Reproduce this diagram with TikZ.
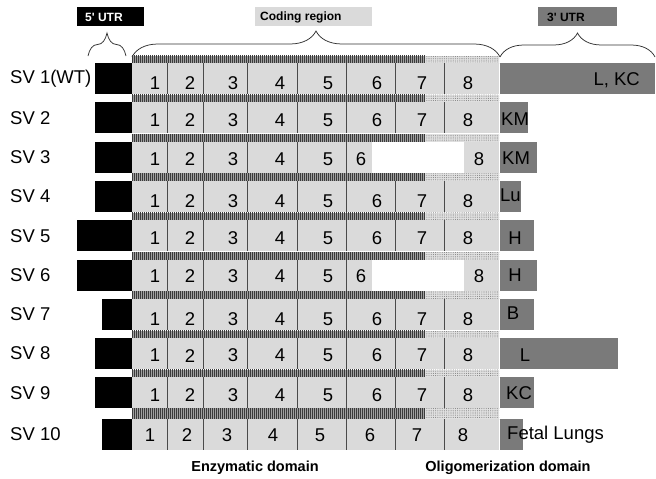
\documentclass[tikz,border=0pt]{standalone}
\usepackage{fontspec}
\setmainfont{Liberation Sans}
\usetikzlibrary{patterns.meta,decorations.pathreplacing}
\definecolor{cell}{HTML}{DADADA}
\definecolor{utr}{HTML}{7A7A7A}
\definecolor{sep}{HTML}{4A4A4A}
\definecolor{stripebg}{HTML}{A0A0A0}
\definecolor{stripec}{HTML}{3A3A3A}
\definecolor{dotbg}{HTML}{E0E0E0}
\definecolor{dotc}{HTML}{858585}
\definecolor{bracec}{HTML}{333333}
\tikzset{
  big/.style={font=\fontsize{18.5}{20}\selectfont, inner sep=0pt},
  toplab/.style={font=\fontsize{12}{13}\selectfont\bfseries, inner sep=0pt, anchor=west},
  botlab/.style={font=\fontsize{14.5}{16}\selectfont\bfseries, inner sep=0pt},
  stripeband/.style={preaction={fill=stripebg}, pattern={Lines[angle=90,distance=2pt,line width=1pt]}, pattern color=stripec},
  dotband/.style={preaction={fill=dotbg}, pattern={Dots[distance=2.2pt,radius=0.55pt]}, pattern color=dotc},
  sepline/.style={draw=sep, line width=0.9pt},
  bracestyle/.style={draw=bracec, line width=0.75pt, decorate},
}
\begin{document}
\begin{tikzpicture}[x=1pt,y=-1pt]
\useasboundingbox (0,0) rectangle (656,479);

% top labels
\fill[black] (77,7) rectangle (144,26);
\node[toplab, text=white] (l5) at (85,17) {5\textquotesingle\ UTR};
\fill[cell] (255,7) rectangle (372,25.5);
\node[toplab] (lc) at (260,17) {Coding region};
\fill[utr] (538,7) rectangle (617,26);
\node[toplab] (l3) at (547,17) {3\textquotesingle\ UTR};

% braces
\draw[bracestyle, decoration={brace,amplitude=23pt}] (88,56) -- (126,56);
\draw[bracestyle, decoration={brace,amplitude=26pt}] (132,57) -- (500,57);
\draw[bracestyle, decoration={brace,amplitude=24pt}] (500,57) -- (655,57);

% stripe bands
\foreach \t in {63,102.3,141.6,180.9,220.2,259.5,298.8,338.1,377.4}{
  \path[stripeband] (132,\t-7.5) rectangle (425,\t);
  \path[dotband] (425,\t-7.5) rectangle (499,\t);
}
\path[stripeband] (132,408.4) rectangle (425,419);
\path[dotband] (425,408.4) rectangle (499,419);

% rows: index/top/black left/utr right
\foreach \i/\t/\bl/\ur in {1/63/95/655, 2/102.3/95/528, 3/141.6/95/537,
  4/180.9/95/521, 5/220.2/77/534, 6/259.5/77/537, 7/298.8/102/534,
  8/338.1/95/618, 9/377.4/95/534, 10/419/102/523}{
  \fill[black] (\bl,\t) rectangle (132,\t+31);
  \fill[cell] (132,\t) rectangle (499,\t+31);
  \fill[utr] (500,\t) rectangle (\ur,\t+31);
}

% rows with all eight cells (rows 1,2,4,5,7,8,9)
\foreach \i/\t/\dy in {1/63/4.5, 2/102.3/2, 4/180.9/4.5, 5/220.2/2.5, 7/298.8/4.5, 8/338.1/2, 9/377.4/2}{
  \foreach \x in {167,203,247,297,346,395,444}{
    \draw[sepline] (\x,\t) -- (\x,\t+31);
  }
  \foreach \n/\x in {1/155,2/190,3/233,4/280,5/328,6/377,7/422,8/468}{
    \node[big] (c\i-\n) at (\x,\t+15.5+\dy) {\n};
  }
}

% rows 3 and 6 (exon 7 missing)
\foreach \i/\t/\dy in {3/141.6/2, 6/259.5/1}{
  \fill[white] (372,\t) rectangle (464,\t+31);
  \foreach \x in {167,203,247,297,346}{
    \draw[sepline] (\x,\t) -- (\x,\t+31);
  }
  \foreach \n/\x in {1/155,2/190,3/233,4/280,5/328,6/361,8/479}{
    \node[big] (c\i-\n) at (\x,\t+15.5+\dy) {\n};
  }
}

% row 10
\foreach \x in {167,203,247,297,346,395,444}{
  \draw[sepline] (\x,419) -- (\x,450);
}
\foreach \n/\x in {1/150,2/187,3/227,4/273,5/320,6/370,7/417,8/463}{
  \node[big] (c10-\n) at (\x,435.5) {\n};
}

% row labels
\foreach \i/\t/\lab in {1/63/SV 1(WT), 2/102.3/SV 2, 3/141.6/SV 3, 4/180.9/SV 4,
  5/220.2/SV 5, 6/259.5/SV 6, 7/298.8/SV 7, 8/338.1/SV 8, 9/377.4/SV 9, 10/419/SV 10}{
  \node[big, anchor=west] (sv\i) at (10,\t+15.5) {\lab};
}

% 3' UTR tissue labels
\node[big, anchor=east] (u1) at (640,80) {L, KC};
\node[big, anchor=west] (u2) at (501,119.3) {KM};
\node[big, anchor=west] (u3) at (502,158.1) {KM};
\node[big, anchor=west] (u4) at (500,195.5) {Lu};
\node[big] (u5) at (515,237.7) {H};
\node[big] (u6) at (515,275.5) {H};
\node[big] (u7) at (513,313) {B};
\node[big] (u8) at (525,355.6) {L};
\node[big, anchor=west] (u9) at (506,393.4) {KC};
\node[big, anchor=west] (u10) at (507,435) {Fetal Lungs};

% bottom labels
\node[botlab] (ez) at (255,468) {Enzymatic domain};
\node[botlab] (ol) at (508,468) {Oligomerization domain};
\end{tikzpicture}
\end{document}
